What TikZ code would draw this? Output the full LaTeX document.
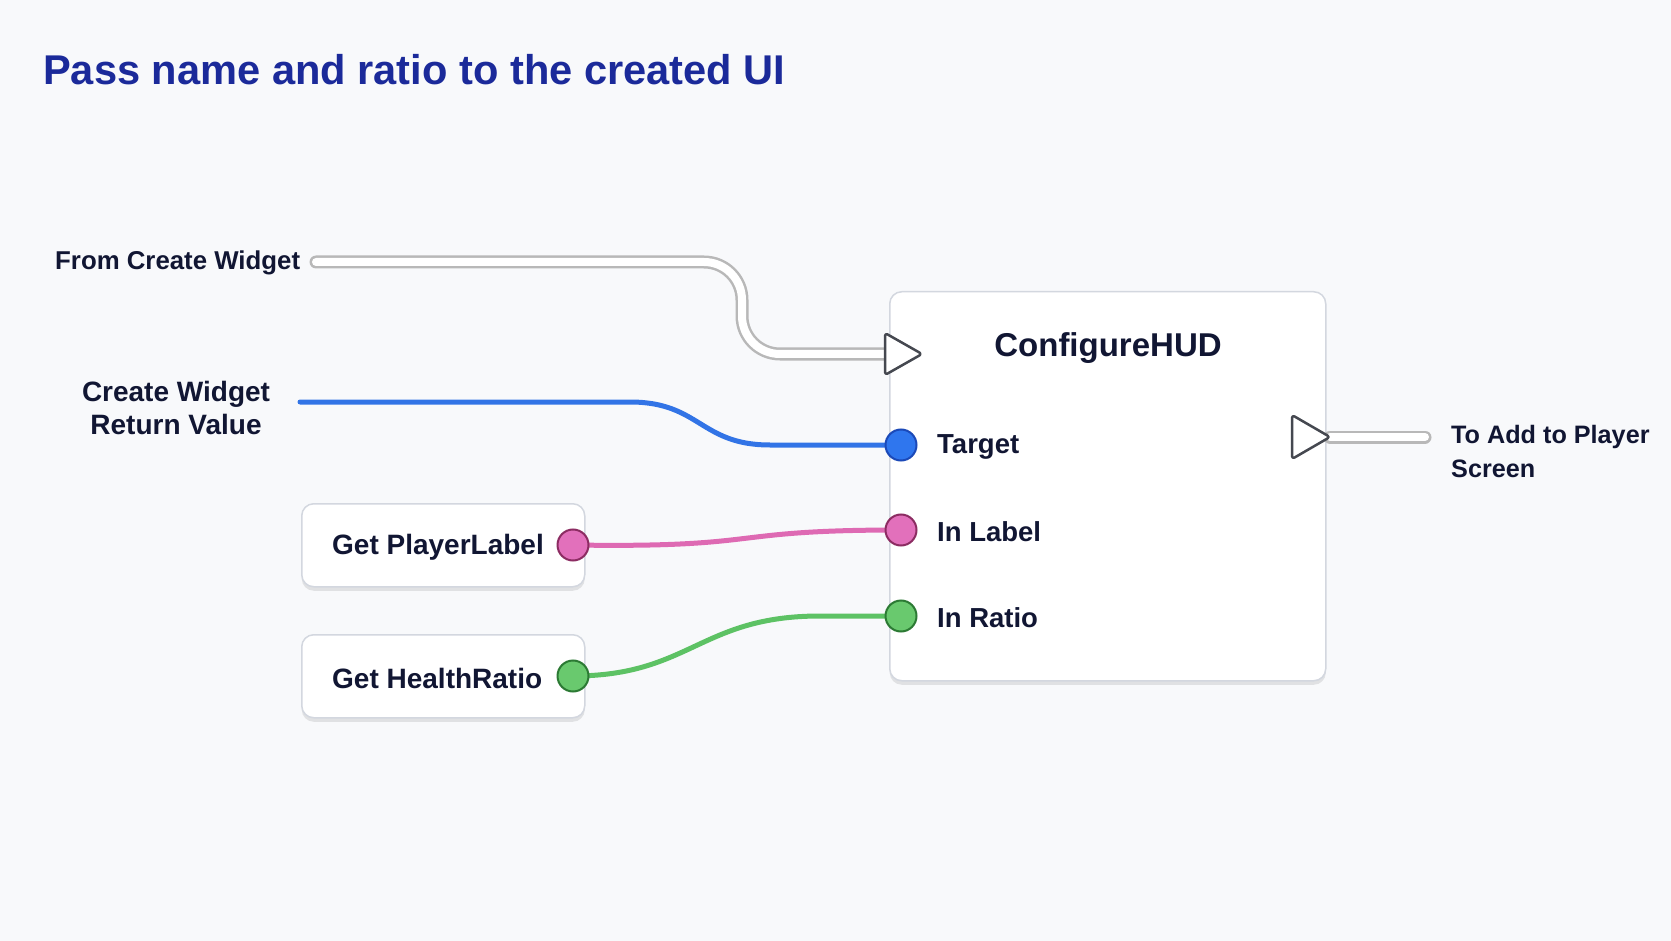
\documentclass[tikz,border=0pt]{standalone}
\usepackage{fontspec}
\setmainfont{Liberation Sans}
\usetikzlibrary{shadows}
\definecolor{bgc}{HTML}{F8F9FB}
\definecolor{titlec}{HTML}{1B2A9A}
\definecolor{txt}{HTML}{111633}
\definecolor{boxline}{HTML}{D3D7DF}
\definecolor{bluef}{HTML}{2F76EE}
\definecolor{bluel}{HTML}{1B49B8}
\definecolor{pinkf}{HTML}{E270BB}
\definecolor{pinkl}{HTML}{8C2C62}
\definecolor{greenf}{HTML}{69C96E}
\definecolor{greenl}{HTML}{2C7A34}
\definecolor{wireb}{HTML}{3274E6}
\definecolor{wirep}{HTML}{DE6AB3}
\definecolor{wireg}{HTML}{5DC264}
\definecolor{execl}{HTML}{454850}
\begin{document}
\begin{tikzpicture}[x=1pt,y=-1pt,
  lbl/.style={font=\fontsize{27.5}{34}\selectfont\bfseries, text=txt, inner sep=0pt},
  nodebox/.style={draw=boxline, line width=1.5pt, fill=white, rounded corners=12pt,
    drop shadow={shadow xshift=0pt, shadow yshift=-4pt, opacity=0.16, fill=black!60}},
  pinc/.style={circle, minimum size=31pt, inner sep=0pt, line width=2pt},
  execpin/.style={draw=execl, fill=white, line width=2.5pt, rounded corners=3pt, line join=round},
  execwire/.style={line width=8pt, white, line cap=round,
    preaction={draw, line width=13pt, color=black!28, line cap=round}},
  datawire/.style={line width=5pt, line cap=round}
]
\useasboundingbox (0,0) rectangle (1671,941);
\fill[bgc] (0,0) rectangle (1671,941);

% title
\node[anchor=base west, inner sep=0pt, text=titlec, font=\fontsize{41.6}{48}\selectfont\bfseries] (title) at (43,85) {Pass name and ratio to the created UI};

% main node
\node[nodebox, minimum width=436pt, minimum height=389pt, anchor=north west] (hud) at (889,291) {};
\node[text=txt, inner sep=0pt, font=\fontsize{33}{40}\selectfont\bfseries] (hudt) at (1108,348) {ConfigureHUD};

% getter nodes
\node[nodebox, minimum width=283pt, minimum height=83pt, anchor=north west] (gpl) at (301,503) {};
\node[lbl, font=\fontsize{28}{33}\selectfont\bfseries, anchor=west] (gplt) at (332,547) {Get PlayerLabel};
\node[nodebox, minimum width=283pt, minimum height=83pt, anchor=north west] (ghr) at (301,634) {};
\node[lbl, font=\fontsize{28}{33}\selectfont\bfseries, anchor=west] (ghrt) at (332,678) {Get HealthRatio};

% free labels
\node[lbl, font=\fontsize{25.8}{31}\selectfont\bfseries, anchor=west] (fcw) at (55,263) {From Create Widget};
\node[lbl, font=\fontsize{28}{33}\selectfont\bfseries, align=center] (cwrv) at (176,408) {Create Widget\\Return Value};
\node[lbl, font=\fontsize{25.2}{34}\selectfont\bfseries, align=left, anchor=north west] (toadd) at (1451,425) {To Add to Player\\Screen};

% pin labels on HUD
\node[lbl, anchor=west] (tgtl) at (937,447) {Target};
\node[lbl, anchor=west] (inll) at (937,532) {In Label};
\node[lbl, anchor=west] (inrl) at (937,618) {In Ratio};

% coordinates
\coordinate (fcwend) at (316,262);
\coordinate (ein) at (885,354);
\coordinate (eout) at (1292,437);
\coordinate (eouttip) at (1330,437);
\coordinate (eend) at (1425,437);
\coordinate (cwrend) at (300,402);

% exec wires
\draw[execwire, rounded corners=38pt] (fcwend) -- (742,262) -- (742,354) -- (ein);
\draw[execwire] (eouttip) -- (eend);

% data wires
\draw[datawire, wireb] (cwrend) -- (630,402) .. controls (700,402) and (700,445) .. (770,445) -- (900,445);
\draw[datawire, wirep] (573,545) .. controls (770,548) and (720,530) .. (900,530);
\draw[datawire, wireg] (573,676) .. controls (690,676) and (700,616) .. (820,616) -- (900,616);

% exec pins
\draw[execpin] (ein) ++(0,-21) -- ++(37,21) -- ++(-37,21) -- cycle;
\draw[execpin] (eout) ++(0,-22) -- ++(38,22) -- ++(-38,22) -- cycle;

% data pins
\node[pinc, draw=bluel, fill=bluef] (tgt) at (901,445) {};
\node[pinc, draw=pinkl, fill=pinkf] (inl) at (901,530) {};
\node[pinc, draw=greenl, fill=greenf] (inr) at (901,616) {};
\node[pinc, draw=pinkl, fill=pinkf] (gplp) at (573,545) {};
\node[pinc, draw=greenl, fill=greenf] (ghrp) at (573,676) {};
\end{tikzpicture}
\end{document}
